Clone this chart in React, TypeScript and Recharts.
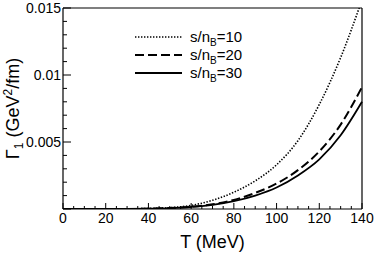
import React from 'react';
import { LineChart, Line, XAxis, YAxis, ReferenceLine } from 'recharts';

const temperatures = [0, 10, 20, 30, 40, 50, 60, 70, 80, 90, 100, 110, 120, 130, 140];
const gammaS10 = [0, 0, 0.000002, 0.00001, 0.00004, 0.0001, 0.00027, 0.00065, 0.00125, 0.0021, 0.0033, 0.0051, 0.0078, 0.0113, 0.0156];
const gammaS20 = [0, 0, 0.000001, 0.000005, 0.00002, 0.00007, 0.00017, 0.00035, 0.00068, 0.0012, 0.0019, 0.0029, 0.0043, 0.0063, 0.0091];
const gammaS30 = [0, 0, 0.000001, 0.000005, 0.00002, 0.00006, 0.00015, 0.0003, 0.00058, 0.001, 0.0016, 0.0025, 0.0037, 0.0055, 0.008];

const xTicks = Array.from({ length: 29 }, (_, i) => i * 5);
const xTickLabels = ['0', '20', '40', '60', '80', '100', '120', '140'];
const yTicks = Array.from({ length: 16 }, (_, i) => i / 1000);
const yTickLabels = ['0.005', '0.01', '0.015'];
const seriesLabels = ['10', '20', '30'];

const data = temperatures.map((t, i) => ({ T: t, s10: gammaS10[i], s20: gammaS20[i], s30: gammaS30[i] }));

const FONT = '"Liberation Sans", Arial, Helvetica, sans-serif';

const series = [
  { key: 's10', label: seriesLabels[0], dash: '1.4 1.6', width: 1.6 },
  { key: 's20', label: seriesLabels[1], dash: '9 4', width: 2 },
  { key: 's30', label: seriesLabels[2], dash: undefined as string | undefined, width: 1.8 },
];

const XTick = (props: any) => {
  const { x, y, payload } = props;
  const v = payload.value as number;
  const major = Math.round(v) % 20 === 0;
  const idx = Math.round(v) / 20;
  return (
    <g>
      <line x1={x} x2={x} y1={y} y2={y - (major ? 6 : 3)} stroke="#000" strokeWidth={1} />
      {major && (
        <text x={x} y={y + 14} textAnchor="middle" fontSize={14} fontFamily={FONT} fill="#000">
          {xTickLabels[idx]}
        </text>
      )}
    </g>
  );
};

const YTick = (props: any) => {
  const { x, y, payload } = props;
  const n = Math.round((payload.value as number) * 1000);
  const major = n % 5 === 0;
  const label = major && n > 0 ? yTickLabels[n / 5 - 1] : null;
  return (
    <g>
      <line x1={x} x2={x + (major ? 8 : 4)} y1={y} y2={y} stroke="#000" strokeWidth={1} />
      {label && (
        <text x={x - 2} y={y + 5} textAnchor="end" fontSize={14} fontFamily={FONT} fill="#000">
          {label}
        </text>
      )}
    </g>
  );
};

const LegendBox = () => (
  <svg width={130} height={70} style={{ position: 'absolute', left: 135, top: 27, overflow: 'visible' }}>
    {series.map((s, i) => (
      <g key={s.key}>
        <line x1={0} x2={47} y1={10 + i * 18} y2={10 + i * 18} stroke="#000" strokeWidth={s.width} strokeDasharray={s.dash} />
        <text x={55} y={15 + i * 18} fontSize={15} fontFamily={FONT} fill="#000">
          s/n<tspan fontSize={10} dy={4}>B</tspan><tspan dy={-4}>={s.label}</tspan>
        </text>
      </g>
    ))}
  </svg>
);

export default function App() {
  return (
    <div style={{ position: 'absolute', left: 0, top: 0, width: 374, height: 253, background: '#fff' }}>
      <LineChart width={374} height={253} data={data} margin={{ top: 8, right: 12, bottom: 0, left: 0 }}>
        <XAxis
          dataKey="T"
          type="number"
          domain={[0, 140]}
          ticks={xTicks}
          interval={0}
          tickSize={0}
          tickMargin={0}
          tickLine={false}
          tick={<XTick />}
          height={44}
          axisLine={{ stroke: '#000', strokeWidth: 1.2 }}
          label={{
            content: (p: any) => {
              const vb = p.viewBox;
              return (
                <text x={vb.x + vb.width / 2} y={248} textAnchor="middle" fontSize={18} fontFamily={FONT} fill="#000">
                  T (MeV)
                </text>
              );
            },
          }}
        />
        <YAxis
          type="number"
          domain={[0, 0.015]}
          allowDataOverflow
          ticks={yTicks}
          interval={0}
          tickSize={0}
          tickMargin={0}
          tickLine={false}
          tick={<YTick />}
          width={63}
          axisLine={{ stroke: '#000', strokeWidth: 1.2 }}
          label={{
            content: (p: any) => {
              const vb = p.viewBox;
              const cy = vb.y + vb.height / 2;
              return (
                <text
                  x={19}
                  y={cy}
                  transform={`rotate(-90, 19, ${cy})`}
                  textAnchor="middle"
                  fontSize={18}
                  fontFamily={FONT}
                  fill="#000"
                >
                  Γ<tspan fontSize={12} dy={4}>1</tspan>
                  <tspan dy={-4}> (GeV</tspan>
                  <tspan fontSize={12} dy={-7}>2</tspan>
                  <tspan dy={7}>/fm)</tspan>
                </text>
              );
            },
          }}
        />
        <ReferenceLine x={140} stroke="#000" strokeWidth={1.2} />
        <ReferenceLine y={0.015} stroke="#000" strokeWidth={1.2} />
        {series.map((s) => (
          <Line
            key={s.key}
            type="monotone"
            dataKey={s.key}
            stroke="#000"
            strokeWidth={s.width}
            strokeDasharray={s.dash}
            dot={false}
            activeDot={false}
            isAnimationActive={false}
          />
        ))}
      </LineChart>
      <LegendBox />
    </div>
  );
}
